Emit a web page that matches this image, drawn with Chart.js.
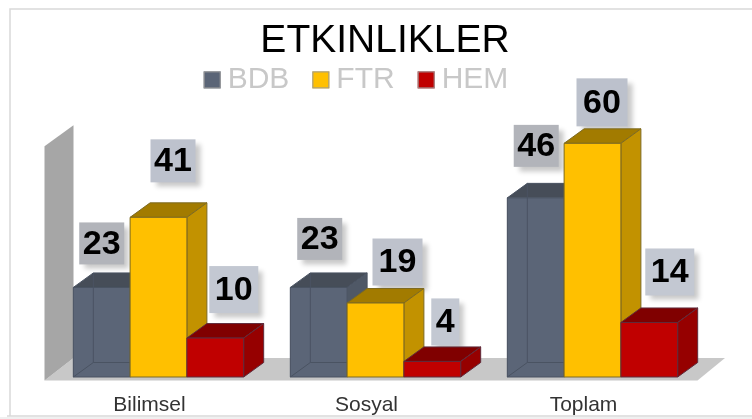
<!DOCTYPE html>
<html><head><meta charset="utf-8">
<style>html,body{margin:0;padding:0;background:#fff}canvas{display:block}</style>
<script src="https://cdn.jsdelivr.net/npm/chart.js@4"></script></head>
<body><canvas id="c" width="752" height="419"></canvas>
<script>
const categories = ["Bilimsel", "Sosyal", "Toplam"];
const seriesNames = ["BDB", "FTR", "HEM"];
const bdbValues = [23, 23, 46];
const ftrValues = [41, 19, 60];
const hemValues = [10, 4, 14];
const chartTitle = "ETKINLIKLER";

// styling only
const faces = [
  {front:"#5b6577", top:"#464d58", side:"#4f5866", edge:"#4a5362", inner:true},
  {front:"#ffc000", top:"#a27b00", side:"#c29200", edge:"#7d6a22"},
  {front:"#c00000", top:"#800000", side:"#960000", edge:"#5f2c3c"}
];
// label box styling per series & category: [dx, dy, w, h, fill]
const labelStyle = [
  [[0,-44,45,42,"#b2b4ba"],[1,-48.5,45,42,"#b2b4ba"],[0.5,-52,45,42,"#b2b4ba"]],
  [[14.5,-56.5,45,43,"#bdc2cd"],[22,-41,50,47,"#bec2cc"],[9.5,-41,51,48,"#bcc1cc"]],
  [[18.5,-48.5,49,47,"#c3c8d2"],[13,-39.5,28,47,"#c3c8d2"],[20.5,-50.5,49,47,"#c3c8d2"]]
];
const DX = 20, DY = -14.5;
const LEGEND_BOX_SHIFT = 7;

function poly(ctx, pts, fill, stroke){
  ctx.beginPath();
  pts.forEach((p,i)=> i?ctx.lineTo(p[0],p[1]):ctx.moveTo(p[0],p[1]));
  ctx.closePath();
  if(fill){ctx.fillStyle=fill;ctx.fill();}
  if(stroke){ctx.strokeStyle=stroke;ctx.lineWidth=1;ctx.stroke();}
}

const scene = {
  id:"scene",
  afterLayout(chart){
    const l = chart.legend, t = chart.titleBlock;
    l.left -= 19.5; l.right -= 19.5;
    t.left += 9.5; t.right += 9.5;
  },
  beforeDraw(chart){
    const c = chart.ctx;
    c.save();
    c.fillStyle="#fff"; c.fillRect(0,0,752,419);
    c.fillStyle="#f0f0f0"; c.fillRect(0,417,752,2);
    c.strokeStyle="#d9d9d9"; c.lineWidth=1.5;
    c.beginPath();
    c.moveTo(752,9); c.lineTo(10,9); c.lineTo(10,416);
    c.moveTo(7,416); c.lineTo(752,416);
    c.stroke();
    c.restore();
  },
  beforeDatasetsDraw(chart){
    const c = chart.ctx, a = chart.chartArea, y = chart.scales.y;
    const top = y.getPixelForValue(60);
    const fl = a.left-5.5, bl = a.left+23.5, fr = a.right-3.5, br = a.right+24;
    const fb = a.bottom+3.5, bb = a.bottom-19;
    c.save();
    poly(c,[[fl,fb],[bl,bb],[br,bb],[fr,fb]],"#c8c8c8");
    poly(c,[[fl,top+3],[bl,top-18],[bl,bb],[fl,fb]],"#a6a6a6");
    c.restore();
  },
  afterDatasetsDraw(chart){
    const c = chart.ctx;
    c.save();
    // value labels behind the bars
    chart.data.datasets.forEach((ds,d)=>{
      chart.getDatasetMeta(d).data.forEach((b,i)=>{
        const s = labelStyle[d][i], cx = b.x+s[0], cy = b.y+s[1];
        c.save();
        c.shadowColor="rgba(0,0,0,0.22)"; c.shadowBlur=5; c.shadowOffsetX=5; c.shadowOffsetY=5;
        c.fillStyle=s[4];
        c.fillRect(cx-s[2]/2,cy-s[3]/2,s[2],s[3]);
        c.restore();
        c.fillStyle="#000";
        c.font='bold 34px "Liberation Sans"';
        c.textAlign="center"; c.textBaseline="middle";
        c.fillText(String(ds.data[i]),cx,cy+1);
      });
    });
    // 3-D boxes, back to front
    chart.data.datasets.forEach((ds,d)=>{
      const f = faces[d];
      chart.getDatasetMeta(d).data.forEach(b=>{
        const l=b.x-b.width/2, r=b.x+b.width/2, t=b.y, e=b.base;
        poly(c,[[l,t],[l+DX,t+DY],[r+DX,t+DY],[r,t]],f.top,f.edge);
        poly(c,[[r,t],[r+DX,t+DY],[r+DX,e+DY],[r,e]],f.side,f.edge);
        poly(c,[[l,t],[r,t],[r,e],[l,e]],f.front,f.edge);
        if(f.inner){
          c.strokeStyle=f.edge; c.lineWidth=1;
          c.beginPath();
          c.moveTo(l+DX,t+DY); c.lineTo(l+DX,e+DY);
          c.moveTo(l,e); c.lineTo(l+DX,e+DY); c.lineTo(r,e+DY);
          c.stroke();
        }
      });
    });
    c.restore();
  },
  afterDraw(chart){
    const c = chart.ctx;
    chart.legend.legendHitBoxes.forEach((h,i)=>{
      c.fillStyle=faces[i].front;
      c.strokeStyle="#999";
      c.lineWidth=1;
      c.fillRect(h.left,h.top+LEGEND_BOX_SHIFT,17,17);
      c.strokeRect(h.left+.5,h.top+LEGEND_BOX_SHIFT+.5,16,16);
    });
  }
};

new Chart(document.getElementById("c"),{
  type:"bar",
  data:{labels:categories,datasets:[
    {label:seriesNames[0],data:bdbValues,backgroundColor:faces[0].front},
    {label:seriesNames[1],data:ftrValues,backgroundColor:faces[1].front},
    {label:seriesNames[2],data:hemValues,backgroundColor:faces[2].front}
  ]},
  options:{
    responsive:false,animation:false,
    layout:{padding:{left:50,right:51,top:0,bottom:1.4}},
    datasets:{bar:{barPercentage:1,categoryPercentage:0.785}},
    plugins:{
      tooltip:{enabled:false},
      title:{display:true,text:chartTitle,color:"#000",
        font:{family:'"Liberation Sans"',size:39,weight:"normal"},
        padding:{top:17.6,bottom:-23}},
      legend:{display:true,position:"top",
        labels:{boxWidth:9,boxHeight:9,padding:23,color:"#c8c8c8",
          font:{family:'"Liberation Sans"',size:30},
          generateLabels(chart){
            return Chart.defaults.plugins.legend.labels.generateLabels(chart).map(x=>Object.assign(x,{fillStyle:"rgba(0,0,0,0)",strokeStyle:"rgba(0,0,0,0)",lineWidth:0}));
          }}}
    },
    scales:{
      x:{grid:{display:false,drawTicks:false},border:{display:false},
        afterFit(s){s.height=40.6;},
        ticks:{color:"#333",padding:15.4,labelOffset:-9,font:{family:'"Liberation Sans"',size:21}}},
      y:{display:false,min:0,max:70}
    }
  },
  plugins:[scene]
});
</script></body></html>
